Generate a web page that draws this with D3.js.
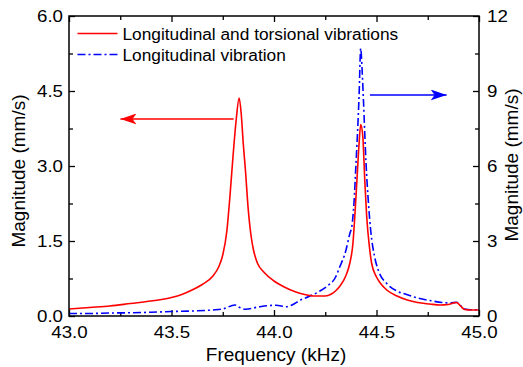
<!DOCTYPE html>
<html><head><meta charset="utf-8">
<script src="https://cdn.jsdelivr.net/npm/d3@7"></script>
<style>
body{margin:0;background:#fff;}
svg{display:block;font-family:"Liberation Sans",Arial,sans-serif;}
</style></head><body>
<svg id="c" width="523" height="367"></svg>
<script>
// Data
const redFreq = [43.00,43.10,43.20,43.30,43.40,43.50,43.55,43.60,43.65,43.70,43.73,43.75,43.77,43.785,43.80,43.815,43.83,43.84,43.85,43.86,43.875,43.89,43.90,43.92,43.95,44.00,44.05,44.10,44.15,44.20,44.25,44.28,44.30,44.32,44.35,44.37,44.385,44.395,44.405,44.415,44.423,44.433,44.443,44.452,44.465,44.476,44.50,44.52,44.55,44.60,44.65,44.70,44.76,44.81,44.85,44.875,44.89,44.91,44.93,44.96,45.00];
const redMag  = [0.14,0.17,0.20,0.25,0.30,0.37,0.43,0.52,0.63,0.79,0.98,1.22,1.70,2.39,3.19,3.90,4.36,4.05,3.45,2.95,2.10,1.55,1.32,1.05,0.88,0.70,0.58,0.49,0.43,0.40,0.40,0.44,0.50,0.59,0.80,1.06,1.45,2.05,2.75,3.45,3.83,3.60,2.70,2.00,1.40,1.06,0.78,0.65,0.52,0.40,0.32,0.27,0.24,0.22,0.23,0.26,0.27,0.20,0.13,0.12,0.12];
const blueFreq = [43.00,43.10,43.20,43.30,43.40,43.50,43.60,43.70,43.75,43.81,43.83,43.86,43.93,44.01,44.06,44.09,44.13,44.17,44.22,44.26,44.30,44.32,44.35,44.37,44.38,44.39,44.40,44.41,44.415,44.423,44.43,44.436,44.449,44.46,44.472,44.49,44.51,44.55,44.60,44.65,44.70,44.76,44.82,44.86,44.89,44.91,44.93,44.96,45.00];
const blueMag  = [0.10,0.10,0.12,0.13,0.15,0.18,0.20,0.24,0.28,0.44,0.35,0.27,0.37,0.43,0.37,0.45,0.64,0.78,0.98,1.20,1.55,1.95,2.60,3.30,3.60,4.50,6.10,7.80,8.80,10.70,9.80,8.70,6.10,4.60,3.40,2.40,1.80,1.30,1.00,0.85,0.72,0.62,0.54,0.52,0.55,0.42,0.28,0.25,0.25];
const xTicks = [43.0,43.5,44.0,44.5,45.0];
const xMinor = [43.25,43.75,44.25,44.75];
const yLTicks = [0,1.5,3.0,4.5,6.0];
const yLMinor = [0.75,2.25,3.75,5.25];
const yRTicks = [0,3,6,9,12];
const yRMinor = [1.5,4.5,7.5,10.5];
const legendNames = ["Longitudinal and torsional vibrations","Longitudinal vibration"];
const titles = {x:"Frequency (kHz)", y:"Magnitude (mm/s)"};

const svg = d3.select("#c");
const L=69, R=479, T=16, B=316;
const x = d3.scaleLinear().domain([43,45]).range([L,R]);
const yL = d3.scaleLinear().domain([0,6]).range([B,T]);
const yR = d3.scaleLinear().domain([0,12]).range([B,T]);
const SX = 1.17, TF = "16px";

function styleAxis(g, anchorShift){
  g.select(".domain").remove();
  g.selectAll("line").attr("stroke","#000").attr("stroke-width",1.3);
  g.selectAll("text").attr("font-size",TF).attr("fill","#000")
    .attr("font-family","'Liberation Sans',Arial,sans-serif")
    .attr("transform",function(){const x0=+d3.select(this).attr("x")||0;return `translate(${x0},0) scale(${SX},1) translate(${-x0},0)`;});
}
// bottom
let g=svg.append("g").attr("transform",`translate(0,${B})`).call(d3.axisBottom(x).tickValues(xTicks).tickFormat(d3.format(".1f")).tickSize(-6).tickPadding(11)); styleAxis(g);
g=svg.append("g").attr("transform",`translate(0,${B})`).call(d3.axisBottom(x).tickValues(xMinor).tickFormat("").tickSize(-4)); styleAxis(g);
// top
g=svg.append("g").attr("transform",`translate(0,${T})`).call(d3.axisTop(x).tickValues(xTicks).tickFormat("").tickSize(-6)); styleAxis(g);
g=svg.append("g").attr("transform",`translate(0,${T})`).call(d3.axisTop(x).tickValues(xMinor).tickFormat("").tickSize(-4)); styleAxis(g);
// left
g=svg.append("g").attr("transform",`translate(${L},0)`).call(d3.axisLeft(yL).tickValues(yLTicks).tickFormat(d3.format(".1f")).tickSize(-6).tickPadding(6)); styleAxis(g);
g=svg.append("g").attr("transform",`translate(${L},0)`).call(d3.axisLeft(yL).tickValues(yLMinor).tickFormat("").tickSize(-4)); styleAxis(g);
// right
g=svg.append("g").attr("transform",`translate(${R},0)`).call(d3.axisRight(yR).tickValues(yRTicks).tickFormat(d3.format("d")).tickSize(-6).tickPadding(8)); styleAxis(g);
g=svg.append("g").attr("transform",`translate(${R},0)`).call(d3.axisRight(yR).tickValues(yRMinor).tickFormat("").tickSize(-4)); styleAxis(g);

// curves
const redData = redFreq.map((f,i)=>[f,redMag[i]]);
const blueData = blueFreq.map((f,i)=>[f,blueMag[i]]);
const lineL = d3.line().x(d=>x(d[0])).y(d=>yL(d[1])).curve(d3.curveMonotoneX);
const lineR = d3.line().x(d=>x(d[0])).y(d=>yR(d[1])).curve(d3.curveMonotoneX);
svg.append("path").datum(blueData).attr("d",lineR).attr("fill","none").attr("stroke","#0000ff").attr("stroke-width",1.6).attr("stroke-dasharray","8,3,2,3");
svg.append("path").datum(redData).attr("d",lineL).attr("fill","none").attr("stroke","#ff0000").attr("stroke-width",1.6);

// frame
svg.append("rect").attr("x",L).attr("y",T).attr("width",R-L).attr("height",B-T).attr("fill","none").attr("stroke","#000").attr("stroke-width",1.5);

// arrows
const defs = svg.append("defs");
[["ar","#ff0000"],["ab","#0000ff"]].forEach(([id,c])=>{
  defs.append("marker").attr("id",id).attr("viewBox","0 0 16 11").attr("refX",16).attr("refY",5.5)
    .attr("markerWidth",16).attr("markerHeight",11).attr("markerUnits","userSpaceOnUse").attr("orient","auto")
    .append("path").attr("d","M0,0 L16,5.5 L0,11 L4,5.5 Z").attr("fill",c);
});
svg.append("line").attr("x1",x(43.803)).attr("y1",yL(3.94)).attr("x2",x(43.251)).attr("y2",yL(3.94)).attr("stroke","#ff0000").attr("stroke-width",1.5).attr("marker-end","url(#ar)");
svg.append("line").attr("x1",x(44.468)).attr("y1",yR(8.84)).attr("x2",x(44.842)).attr("y2",yR(8.84)).attr("stroke","#0000ff").attr("stroke-width",1.5).attr("marker-end","url(#ab)");

// legend
const leg = svg.append("g");
const legColors=["#ff0000","#0000ff"], legDash=[null,"8,3,2,3"];
legendNames.forEach((n,i)=>{
  const yy = 33.5 + i*21;
  leg.append("line").attr("x1",77.5).attr("x2",117.5).attr("y1",yy).attr("y2",yy).attr("stroke",legColors[i]).attr("stroke-width",1.6).attr("stroke-dasharray",legDash[i]);
  leg.append("text").attr("x",122.5).attr("y",yy+6.5).attr("font-size","17.3px").attr("fill","#000").text(n);
});

// titles
svg.append("text").attr("x",(L+R)/2+2).attr("y",361).attr("text-anchor","middle").attr("font-size","19px").text(titles.x);
svg.append("text").attr("transform","translate(25,171) rotate(-90)").attr("text-anchor","middle").attr("font-size","19px").text(titles.y);
svg.append("text").attr("transform","translate(518,165) rotate(-90)").attr("text-anchor","middle").attr("font-size","19px").text(titles.y);
</script></body></html>
